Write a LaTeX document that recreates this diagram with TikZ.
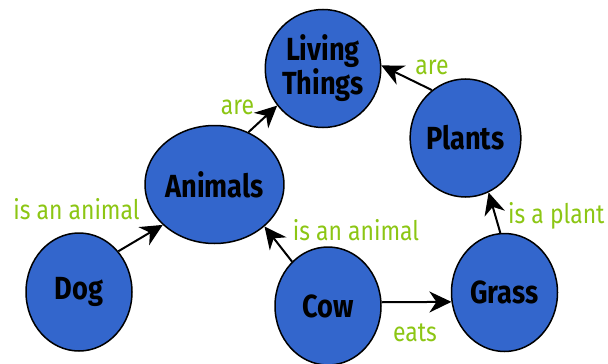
\documentclass[tikz,border=0pt]{standalone}
\usepackage{fontspec}
\setmainfont{Fira Sans}[FakeStretch=0.85]
\usetikzlibrary{arrows.meta,shapes.geometric}
\definecolor{nodeblue}{RGB}{51,102,204}
\definecolor{labelgreen}{RGB}{140,198,20}
\begin{document}
\begin{tikzpicture}[x=1pt,y=-1pt,
    thing/.style={ellipse,draw=black,line width=1.5pt,fill=nodeblue,minimum width=106pt,minimum height=118pt,inner sep=0pt,align=center,font=\bfseries\fontsize{32}{27}\selectfont},
    link/.style={line width=2pt,-{Stealth[length=22pt,width=21pt,inset=7pt]}},
    lbl/.style={text=labelgreen,font=\fontsize{27}{27}\selectfont,inner sep=0pt}]
      \useasboundingbox (0,0) rectangle (608,364);
      \node[thing] (living) at (323,68.5) {Living\\Things};
      \node[thing] (animals) at (214.5,184.5) {Animals};
      \node[thing] (plants) at (465.5,138) {Plants};
      \node[thing] (dog) at (79,292) {Dog};
      \node[thing] (cow) at (328,306) {Cow};
      \node[thing] (grass) at (504.5,292.5) {Grass};
      \draw[link] (dog.46.6) -- (animals.218.6);
      \draw[link] (animals.57) -- (living.219.8);
      \draw[link] (plants.125.5) -- (living.3.7);
      \draw[link] (cow.129) -- (animals.320);
      \draw[link] (cow.4) -- (grass.190);
      \draw[link] (grass.94.3) -- (plants.293);
      \node[lbl,anchor=base] (areanimals) at (237.5,114) {are};
      \node[lbl,anchor=base] (areplants) at (432,74) {are};
      \node[lbl,anchor=base] (dogis) at (76.5,219) {is an animal};
      \node[lbl,anchor=base] (cowis) at (356,240.5) {is an animal};
      \node[lbl,anchor=base] (eats) at (415,341.5) {eats};
      \node[lbl,anchor=base west] (grassis) at (508,223) {is a plant};
    \end{tikzpicture}
\end{document}
